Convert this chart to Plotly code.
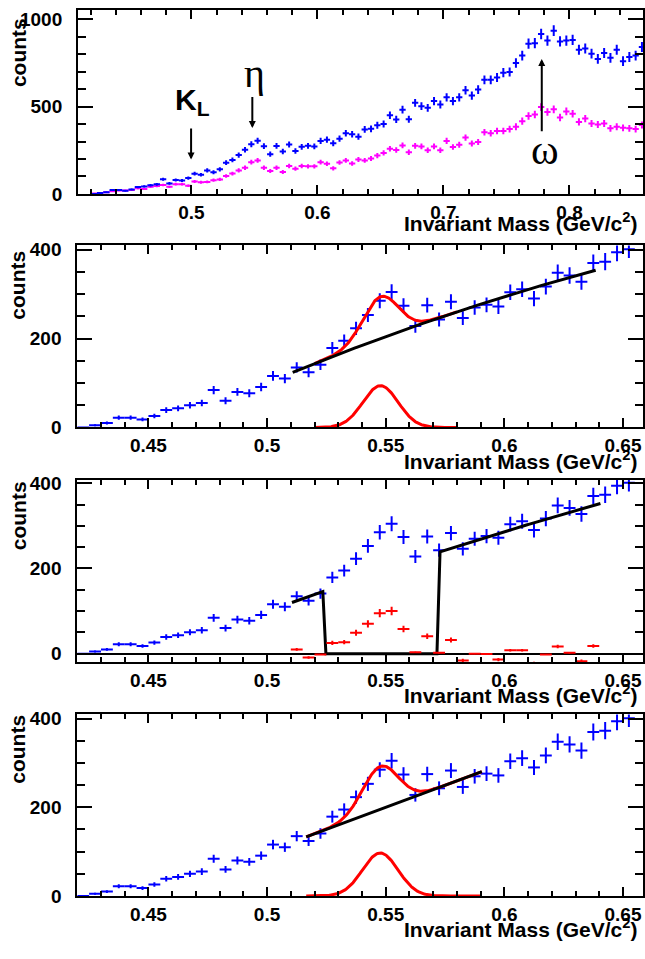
import numpy as np
import plotly.graph_objects as go

# ---------------- data ----------------
BIN_LOW = 0.42
BIN_WIDTH = 0.005

blue_counts = [0, 5, 10, 22, 22, 18, 26, 39, 43, 50, 55, 84, 60, 80, 77, 91,
               116, 110, 135, 124, 141, 179, 195, 223, 253, 285, 305, 274, 228, 275, 243, 283,
               246, 270, 276, 272, 304, 311, 290, 317, 348, 342, 328, 370, 373, 394, 401,
               451, 427, 483, 428, 522, 503, 494, 532, 513, 554, 532, 554, 594, 564, 598,
               654, 654, 667, 695, 699, 751, 793, 861, 864, 917, 879, 936, 874, 879, 883,
               827, 834, 804, 774, 808, 780, 827, 761, 785, 793, 842]

magenta_counts = [2, 4, 9, 15, 19, 19, 22, 32, 28, 41, 45, 51, 41, 56, 56, 47,
                  71, 67, 69, 79, 83, 103, 117, 135, 150, 182, 192, 150, 132, 150, 126, 160,
                  145, 160, 158, 158, 182, 173, 147, 180, 192, 174, 197, 192, 203, 220, 235,
                  259, 252, 278, 239, 276, 272, 250, 272, 250, 304, 269, 282, 323, 289, 297,
                  354, 348, 361, 361, 372, 385, 417, 447, 455, 498, 470, 485, 438, 473, 460,
                  413, 432, 404, 398, 404, 376, 385, 379, 376, 372, 395]

RESID_FIRST_BIN = 0.5125
resid_counts = [10, -9, -2, 25, 27, 49, 70, 95, 100, 58, 3, 41, 2, 32, -16, 0,
                -1, -14, 8, 8, -24, -2, 17, 2, -18, 18]

# fit parameters
gaus2 = dict(A=94, mu=0.5478, sigma=0.0074)
bg2 = dict(c0=204.4, c1=1943.7, c2=-2909.0)       # pol2 in (x-0.55)
bg2_range = (0.5108, 0.6385)
sig2_range = (0.52, 0.58)

bg3 = dict(c0=196.8, c1=1875.5, c2=-1711.0)
bg3_range = (0.5105, 0.6405)
bg3_reject = (0.5245, 0.572)

gaus4 = dict(A=97, mu=0.5477, sigma=0.0075)
bg4 = dict(c0=199.8, c1=1989.0, c2=0.0)
fit4_range = (0.5165, 0.5905)

top_xticks = [0.5, 0.6, 0.7, 0.8]
top_yticks = [0, 500, 1000]
low_xticks = [0.45, 0.5, 0.55, 0.6, 0.65]
low_xtick_text = ["0.45", "0.5", "0.55", "0.6", "0.65"]
low_yticks = [0, 200, 400]

# ---------------- helpers ----------------
BLUE = "#0000ff"
MAG = "#ff00ff"
RED = "#ff0000"
W, H = 645, 959

centers = BIN_LOW + BIN_WIDTH * (np.arange(len(blue_counts)) + 0.5)
blue = np.array(blue_counts, float)
mag = np.array(magenta_counts, float)
res = np.array(resid_counts, float)
res_x = RESID_FIRST_BIN + BIN_WIDTH * np.arange(len(res))


def pol(p, x):
    u = x - 0.55
    return p["c0"] + p["c1"] * u + p["c2"] * u * u


def gaus(p, x):
    return p["A"] * np.exp(-0.5 * ((x - p["mu"]) / p["sigma"]) ** 2)


def hist_trace(x, y, err, color, xa, ya, thick=2):
    return go.Scatter(
        x=x, y=y, mode="markers", xaxis=xa, yaxis=ya,
        marker=dict(size=1, color=color),
        error_x=dict(type="constant", value=BIN_WIDTH / 2, width=0, thickness=thick, color=color),
        error_y=dict(type="data", array=err, width=0, thickness=thick, color=color),
        showlegend=False, hoverinfo="skip")


def line_trace(x, y, color, xa, ya, width=3):
    return go.Scatter(x=x, y=y, mode="lines", xaxis=xa, yaxis=ya,
                      line=dict(color=color, width=width), showlegend=False, hoverinfo="skip")


fig = go.Figure()

# ---- panel 1 ----
fig.add_trace(hist_trace(centers, mag, np.sqrt(mag), MAG, "x", "y", thick=2))
fig.add_trace(hist_trace(centers, blue, np.sqrt(blue), BLUE, "x", "y", thick=2))

# ---- panel 2 ----
fig.add_trace(hist_trace(centers, blue, np.sqrt(blue), BLUE, "x2", "y2"))
xs = np.linspace(*sig2_range, 200)
fig.add_trace(line_trace(xs, gaus(gaus2, xs) + pol(bg2, xs), RED, "x2", "y2"))
xb = np.linspace(*bg2_range, 200)
fig.add_trace(line_trace(xb, pol(bg2, xb), "black", "x2", "y2"))
fig.add_trace(line_trace(xs, gaus(gaus2, xs), RED, "x2", "y2"))

# ---- panel 3 ----
fig.add_trace(hist_trace(centers, blue, np.sqrt(blue), BLUE, "x3", "y3"))
xr = np.linspace(bg3_range[0], bg3_range[1], 101)
yr = pol(bg3, xr)
yr[(xr > bg3_reject[0]) & (xr < bg3_reject[1])] = 0
fig.add_trace(line_trace(xr, yr, "black", "x3", "y3"))
fig.add_trace(hist_trace(res_x, res, np.sqrt(np.abs(res)), RED, "x3", "y3"))

# ---- panel 4 ----
fig.add_trace(hist_trace(centers, blue, np.sqrt(blue), BLUE, "x4", "y4"))
x4 = np.linspace(*fit4_range, 200)
fig.add_trace(line_trace(x4, gaus(gaus4, x4) + pol(bg4, x4), RED, "x4", "y4"))
fig.add_trace(line_trace(x4, pol(bg4, x4), "black", "x4", "y4"))
fig.add_trace(line_trace(x4, gaus(gaus4, x4), RED, "x4", "y4"))

# ---------------- layout ----------------
panels = [  # (left, right, top, bottom) in px
    (78.3, 645, 3.3, 190.5),
    (77.5, 645, 243, 428.5),
    (77.5, 645, 482, 668),
    (77.5, 645, 721, 906),
]
TICKFONT = dict(family="Liberation Sans", size=19, color="black", weight="bold")


def xaxis(i, rng, tickvals, ticktext, minor_dtick):
    l, r, t, b = panels[i]
    return dict(domain=[l / W, r / W], range=rng, anchor="y" if i == 0 else f"y{i+1}",
                showline=True, linecolor="black", linewidth=2, mirror="allticks",
                ticks="inside", ticklen=9, tickwidth=1.5, tickcolor="black",
                tickvals=tickvals, ticktext=ticktext, tickfont=TICKFONT,
                ticklabelstandoff=0,
                minor=dict(dtick=minor_dtick, tick0=0, ticks="inside", ticklen=5,
                           tickwidth=1.5, tickcolor="black"),
                showgrid=False, zeroline=False, fixedrange=True)


def yaxis(i, rng, tickvals, minor_dtick, zeroline=False):
    l, r, t, b = panels[i]
    return dict(domain=[1 - b / H, 1 - t / H], range=rng, anchor="x" if i == 0 else f"x{i+1}",
                showline=True, linecolor="black", linewidth=2, mirror="allticks",
                ticks="inside", ticklen=15, tickwidth=1.5, tickcolor="black",
                tickvals=tickvals, tickfont=TICKFONT, ticklabelstandoff=10,
                minor=dict(dtick=minor_dtick, tick0=0, ticks="inside", ticklen=8,
                           tickwidth=1.5, tickcolor="black"),
                showgrid=False, zeroline=zeroline, zerolinecolor="black", zerolinewidth=1.5,
                fixedrange=True)


top_xrange = [0.41, 0.41 + (645 - 78.3) / 1264]
low_xrange = [0.42, 0.42 + (645 - 77.5) / 2380]

fig.update_layout(
    width=W, height=H, margin=dict(l=0, r=0, t=0, b=0),
    paper_bgcolor="white", plot_bgcolor="white",
    xaxis=xaxis(0, top_xrange, top_xticks, [str(v) for v in top_xticks], 0.02),
    yaxis=yaxis(0, [0, 1053], top_yticks, 100),
    xaxis2=xaxis(1, low_xrange, low_xticks, low_xtick_text, 0.01),
    yaxis2=yaxis(1, [0, 409.5], low_yticks, 50),
    xaxis3=xaxis(2, low_xrange, low_xticks, low_xtick_text, 0.01),
    yaxis3=yaxis(2, [-20.7, 407.8], low_yticks, 50, zeroline=True),
    xaxis4=xaxis(3, low_xrange, low_xticks, low_xtick_text, 0.01),
    yaxis4=yaxis(3, [0, 409.5], low_yticks, 50),
)

TITLEFONT = dict(family="Liberation Sans", size=21, color="black", weight="bold")
annotations = []
xtitle_y = [219, 462, 700, 939]
ytitle_y = [46, 283, 518, 756]
for i in range(4):
    annotations.append(dict(xref="paper", yref="paper", x=641 / W, y=1 - xtitle_y[i] / H,
                            xanchor="right", yanchor="middle", showarrow=False,
                            text="Invariant Mass (GeV/c<sup>2</sup>)", font=TITLEFONT))
    annotations.append(dict(xref="paper", yref="paper", x=18 / W, y=1 - ytitle_y[i] / H,
                            xanchor="center", yanchor="middle", showarrow=False, textangle=-90,
                            text="counts", font=TITLEFONT))

# particle labels on the top panel
annotations += [
    dict(xref="x", yref="y", x=0.5007, y=527, text="K<sub>L</sub>", showarrow=False,
         font=dict(family="Liberation Sans", size=30, color="black", weight="bold")),
    dict(xref="x", yref="y", x=0.5497, y=690, text="η", showarrow=False,
         font=dict(family="Liberation Serif", size=40, color="black")),
    dict(xref="x", yref="y", x=0.7806, y=250, text="ω", showarrow=False,
         font=dict(family="Liberation Serif", size=42, color="black")),
    dict(xref="x", yref="y", axref="x", ayref="y", x=0.4997, y=197, ax=0.4997, ay=383,
         text="", showarrow=True, arrowhead=2, arrowsize=0.7, arrowwidth=2, arrowcolor="black"),
    dict(xref="x", yref="y", axref="x", ayref="y", x=0.5483, y=378, ax=0.5483, ay=564,
         text="", showarrow=True, arrowhead=2, arrowsize=0.7, arrowwidth=2, arrowcolor="black"),
    dict(xref="x", yref="y", axref="x", ayref="y", x=0.778, y=773, ax=0.778, ay=350,
         text="", showarrow=True, arrowhead=2, arrowsize=0.7, arrowwidth=2, arrowcolor="black"),
]
fig.update_layout(annotations=annotations)

fig.write_html("out.html", config={"displayModeBar": False},
               post_script="document.body.style.margin='0';document.body.style.padding='0';"
                           "document.body.style.overflow='hidden';")
